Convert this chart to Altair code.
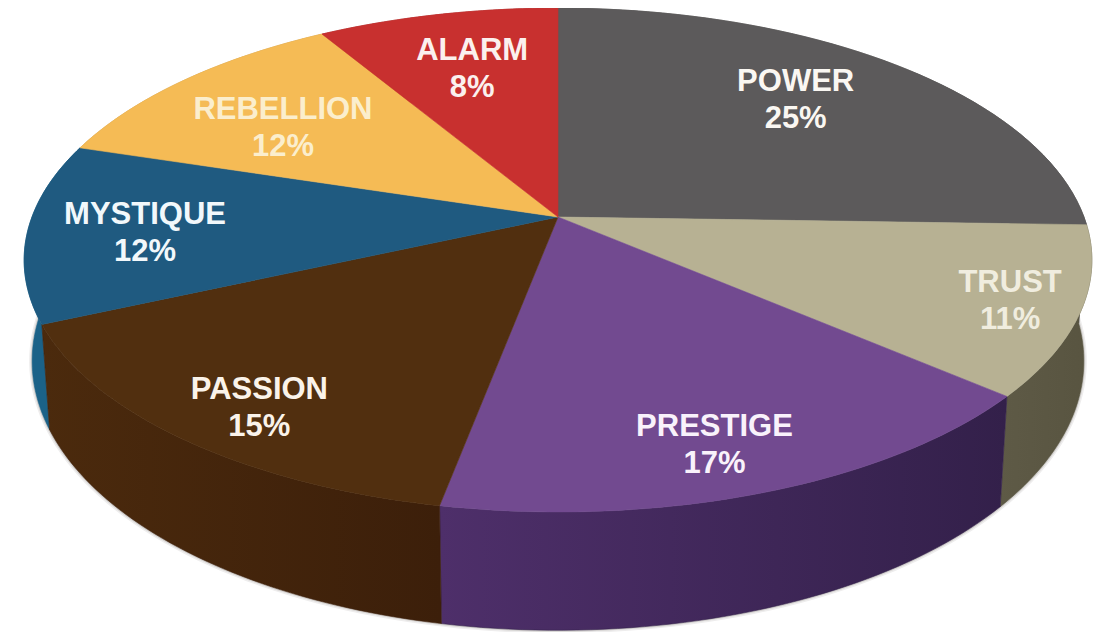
import math
import altair as alt
import pandas as pd

# ---- data ----
names = ["POWER", "TRUST", "PRESTIGE", "PASSION", "MYSTIQUE", "REBELLION", "ALARM"]
percent_labels = [25, 11, 17, 15, 12, 12, 8]
drawn_shares = [25.5, 10.8, 16.7, 15.3, 11.5, 11.6, 8.6]

# ---- styles ----
top_colors = ["#5c5a5b", "#b7b193", "#724a90", "#512f0f", "#1f5a80", "#f5bb55", "#c8302f"]
wall_left = ["#4a4848", "#5e5a46", "#4e2f6a", "#4b2a0d", "#1b6288", "#c89a48", "#a02828"]
wall_right = ["#4a4848", "#585440", "#33204a", "#3c1f0a", "#1b6288", "#c89a48", "#a02828"]
text_colors = ["#faf7f2", "#f0eddf", "#f9f2fb", "#faf3ea", "#f2f8fb", "#fbeecd", "#fbf0ee"]

# ---- layout of labels, in pie terms ----
label_theta = [43.6, 112.0, 162.3, 216.0, 265.0, 304.8, 344.9]
label_radius = [0.713, 0.875, 0.844, 0.852, 0.779, 0.679, 0.699]

W, H = 1090, 624
CX, CY = 550, 209
A, B, K = 244.6, 526.0, 0.171
DEPTH = 98.0
LOW_NARROW = 0.985
STEPS = 48


def project(theta_deg, r=1.0, drop=0.0):
    t = math.radians(theta_deg)
    u, v = r * math.sin(t), r * math.cos(t)
    d = 1 + K * v
    narrow = LOW_NARROW if drop else 1.0
    return CX + narrow * B * u / d, CY - A * v / d + drop / d


def frame(points):
    return pd.DataFrame(
        {"px": [p[0] for p in points], "py": [p[1] for p in points], "seq": list(range(len(points)))}
    )


x_enc = alt.X("px:Q", scale=alt.Scale(domain=[0, W]), axis=None)
y_enc = alt.Y("py:Q", scale=alt.Scale(domain=[0, H], reverse=True), axis=None)

walls, tops = [], []
start = 0.0
spans = []
for share in drawn_shares:
    spans.append((start * 3.6, (start + share) * 3.6))
    start += share

for i, (a0, a1) in enumerate(spans):
    arc = [a0 + (a1 - a0) * s / STEPS for s in range(STEPS + 1)]
    top_arc = [project(a) for a in arc]
    low_arc = [project(a, drop=DEPTH) for a in arc]

    fill = alt.Gradient(
        gradient="linear",
        x1=0, x2=1, y1=0, y2=0,
        stops=[
            alt.GradientStop(color=wall_left[i], offset=0),
            alt.GradientStop(color=wall_right[i], offset=1),
        ],
    )
    walls.append(
        alt.Chart(frame(top_arc + low_arc[::-1]))
        .mark_line(interpolate="linear-closed", fill=fill, stroke=wall_right[i], strokeWidth=0.6)
        .encode(x=x_enc, y=y_enc, order="seq:Q")
    )
    tops.append(
        alt.Chart(frame([project(0, r=0.0)] + top_arc))
        .mark_line(interpolate="linear-closed", fill=top_colors[i], stroke=top_colors[i], strokeWidth=0.6)
        .encode(x=x_enc, y=y_enc, order="seq:Q")
    )

# soft grey edge under the front of the disc
edge = frame([project(88 + s * 184 / 120, drop=DEPTH) for s in range(121)])
shadow = [
    alt.Chart(edge)
    .mark_line(stroke=c, strokeWidth=w)
    .encode(x=x_enc, y=y_enc, order="seq:Q")
    for c, w in [("#eeeded", 6), ("#d4d2d0", 3)]
]

label_rows = []
for n, p, th, r, c in zip(names, percent_labels, label_theta, label_radius, text_colors):
    px, py = project(th, r=r)
    label_rows.append({"px": px, "py": py, "label": f"{n}\n{p}%", "c": c})

labels = (
    alt.Chart(pd.DataFrame(label_rows))
    .mark_text(
        font="Liberation Sans", fontWeight="bold", fontSize=31, lineBreak="\n", lineHeight=37,
        align="center", baseline="middle", dy=-18.5,
    )
    .encode(x=x_enc, y=y_enc, text="label:N", color=alt.Color("c:N", scale=None, legend=None))
)

# back walls first, near walls afterwards
order = [0, 6, 5, 1, 4, 2, 3]
chart = (
    alt.layer(*shadow, *[walls[i] for i in order], *tops, labels)
    .properties(width=W, height=H, padding=0, autosize=alt.AutoSizeParams(type="none"), background="#ffffff")
    .configure_view(stroke=None)
)
chart.save("out.html", embed_options={"renderer": "svg", "actions": False})
